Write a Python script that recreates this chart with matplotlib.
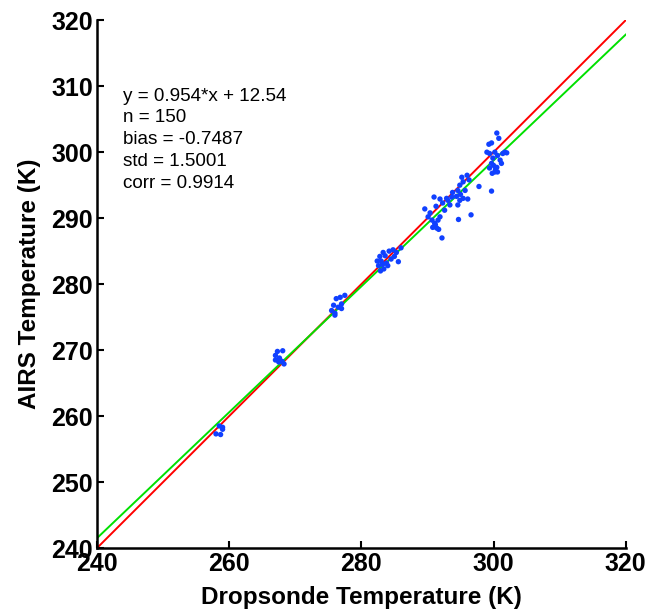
import numpy as np
import matplotlib
matplotlib.use("Agg")
import matplotlib.pyplot as plt

plt.rcParams['font.family'] = ['Liberation Sans', 'DejaVu Sans']

# dropsonde (x) and AIRS (y) temperatures, K
dropsonde_t = [
    258.5, 259.0, 258.0, 258.7, 259.0,
    267.3, 268.1, 267.0, 267.6, 267.0, 268.0, 268.3, 267.5,
    275.5, 276.0, 276.5, 277.0, 276.2, 277.5, 276.8, 276.0, 277.0, 275.8,
    282.8, 283.3, 284.2, 283.0, 282.6, 283.4, 282.9, 283.8, 284.5,
    285.3, 285.6, 284.0, 283.2, 285.0, 286.0, 283.6, 282.4, 284.8,
    289.6, 291.0, 291.9, 291.3, 290.1, 290.7, 291.1, 290.8, 291.4, 291.7,
    292.2, 291.6, 291.9, 292.6, 292.9, 293.7, 294.4, 294.9, 294.6, 295.4,
    296.1, 294.9, 295.2, 296.0, 295.4, 294.6, 293.8, 295.7, 294.7, 296.6,
    297.8, 299.7, 293.1, 292.3, 291.2, 290.4, 293.4, 295.0, 296.3,
    300.5, 300.8, 299.7, 299.3, 299.0, 299.4, 300.2, 300.6, 301.4, 299.9,
    301.0, 299.7, 300.5, 299.4, 300.2, 300.6, 301.2, 301.7, 300.0, 302.0,
    300.3, 299.8,
]
airs_t = [
    258.5, 258.0, 257.3, 257.2, 258.3,
    269.8, 269.9, 269.2, 268.8, 268.5, 268.3, 267.9, 268.2,
    276.0, 275.6, 276.5, 277.0, 277.8, 278.3, 278.0, 275.3, 276.3, 276.8,
    284.2, 284.8, 285.0, 283.5, 282.8, 282.3, 282.0, 283.2, 283.8,
    284.8, 283.4, 282.8, 283.0, 284.2, 285.5, 284.3, 283.5, 285.2,
    291.4, 293.2, 292.9, 291.8, 290.2, 289.7, 289.2, 288.6, 288.5, 288.3,
    287.0, 289.7, 290.2, 291.2, 293.0, 293.2, 293.3, 292.7, 292.0, 293.0,
    292.9, 295.0, 296.2, 296.5, 295.5, 294.2, 293.9, 294.2, 289.8, 290.5,
    294.8, 294.1, 292.7, 292.3, 289.0, 290.8, 292.0, 293.6, 295.8,
    302.9, 302.1, 301.4, 301.2, 300.0, 299.8, 300.0, 299.5, 299.8, 299.1,
    298.8, 298.3, 297.7, 297.6, 297.0, 297.0, 298.3, 300.0, 298.0, 299.9,
    297.4, 296.8,
]

fit_slope, fit_icpt = 0.954, 12.54
stats = ["y = 0.954*x + 12.54", "n = 150", "bias = -0.7487",
         "std = 1.5001", "corr = 0.9914"]

fig = plt.figure(figsize=(6.6, 6.13), dpi=100)
ax = fig.add_axes([0.147, 0.106, 0.801, 0.861])

xx = np.array([240, 320])
ax.plot(xx, xx, color='#ff0000', lw=1.4, zorder=2)
ax.plot(xx, fit_slope * xx + fit_icpt, color='#00e000', lw=1.4, zorder=2)
ax.scatter(dropsonde_t, airs_t, s=15, color='#1040ff', edgecolors='none', zorder=3)

for i, s in enumerate(stats):
    ax.text(244, 308.5 - i * 3.3, s, fontsize=13.6, va='center', ha='left')

ax.set_xlim(240, 320)
ax.set_ylim(240, 320)
ax.set_xticks(range(240, 321, 20))
ax.set_yticks(range(240, 321, 10))
ax.spines['top'].set_visible(False)
ax.spines['right'].set_visible(False)
ax.spines['left'].set_linewidth(1.8)
ax.spines['bottom'].set_linewidth(1.8)
ax.tick_params(direction='in', length=5, width=1.5, labelsize=18, pad=3)
for lab in ax.get_xticklabels() + ax.get_yticklabels():
    lab.set_fontweight('bold')

ax.set_xlabel("Dropsonde Temperature (K)", fontsize=17.5, fontweight='bold', labelpad=7)
ax.set_ylabel("AIRS Temperature (K)", fontsize=17.5, fontweight='bold', labelpad=7)

fig.savefig("out.png", dpi=100)
